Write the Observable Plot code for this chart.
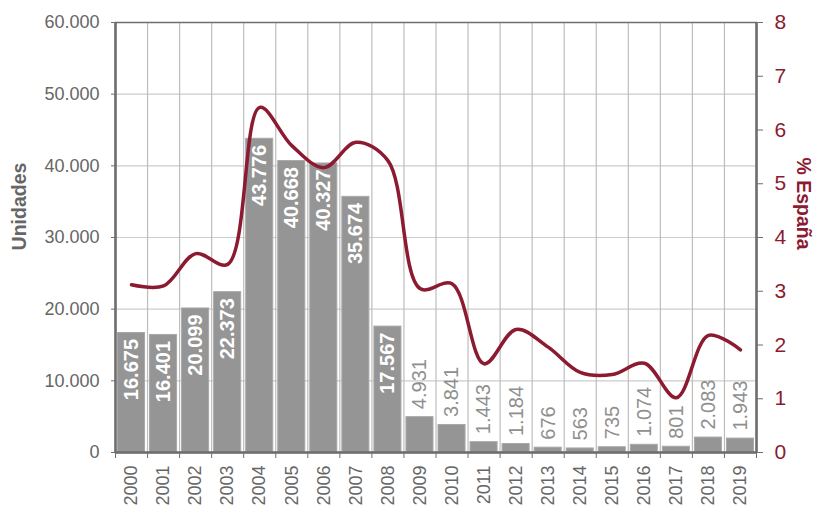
<!DOCTYPE html>
<html>
<head>
<meta charset="utf-8">
<script src="https://cdn.jsdelivr.net/npm/d3@7"></script>
<script src="https://cdn.jsdelivr.net/npm/@observablehq/plot@0.6"></script>
<style>
  body { margin: 0; background: #fff; }
  #chart { width: 814px; height: 509px; }
</style>
</head>
<body>
<div id="chart"></div>
<script>
const years = [2000, 2001, 2002, 2003, 2004, 2005, 2006, 2007, 2008, 2009, 2010, 2011, 2012, 2013, 2014, 2015, 2016, 2017, 2018, 2019];
const unidades = [16675, 16401, 20099, 22373, 43776, 40668, 40327, 35674, 17567, 4931, 3841, 1443, 1184, 676, 563, 735, 1074, 801, 2083, 1943];
const pctEspana = [3.12, 3.10, 3.70, 3.50, 6.42, 5.71, 5.30, 5.77, 5.43, 3.05, 3.14, 1.65, 2.29, 1.96, 1.49, 1.45, 1.66, 1.02, 2.18, 1.91];
const leftTicks = [0, 10000, 20000, 30000, 40000, 50000, 60000];
const rightTicks = [0, 1, 2, 3, 4, 5, 6, 7, 8];
const leftLabel = "Unidades";
const rightLabel = "% España";

const RED = "#8c1a31";
const GRAY = "#959595";
const TXT = "#666666";
const AX = "#6e6e6e";
const ratio = 60000 / 8;

const fmt = d => d3.format(",")(d).replace(/,/g, ".");
const data = years.map((y, i) => ({year: y, u: unidades[i], p: pctEspana[i]}));
const inside = data.filter(d => d.u >= 10000);
const outside = data.filter(d => d.u < 10000);
const bounds = years.map(y => y - 0.5).concat([years[years.length - 1] + 0.5]);

const chart = Plot.plot({
  width: 814,
  height: 509,
  marginLeft: 115,
  marginRight: 58,
  marginTop: 22,
  marginBottom: 57,
  style: {fontFamily: "Liberation Sans, Arial, sans-serif", background: "#fff", overflow: "visible"},
  x: {domain: [bounds[0], bounds[bounds.length - 1]]},
  y: {domain: [0, 60000]},
  marks: [
    Plot.gridY(leftTicks, {stroke: "#cccccc", strokeOpacity: 1, strokeWidth: 1.2}),
    Plot.ruleX(bounds, {stroke: "#bdbdbd", strokeWidth: 1.2}),
    Plot.rectY(data, {x1: d => d.year - 0.5, x2: d => d.year + 0.5, y: "u", fill: GRAY, stroke: "#a8a8a8", strokeWidth: 1, insetLeft: 2.5, insetRight: 2.5}),
    Plot.text(inside, {x: "year", y: "u", text: d => fmt(d.u), rotate: -90, textAnchor: "end", lineAnchor: "middle", dy: 6, fill: "#fff", fontSize: 20, fontWeight: "bold"}),
    Plot.text(outside, {x: "year", y: "u", text: d => fmt(d.u), rotate: -90, textAnchor: "start", lineAnchor: "middle", dy: -8, fill: "#8f8f8f", fontSize: 20}),
    Plot.line(data, {x: "year", y: d => d.p * ratio, stroke: RED, strokeWidth: 3.5, curve: "catmull-rom"}),
    Plot.frame({stroke: AX, strokeWidth: 1.5}),
    Plot.ruleX([bounds[0]], {stroke: AX, strokeWidth: 2.5}),
    Plot.ruleX([bounds[bounds.length - 1]], {stroke: AX, strokeWidth: 2.5}),
    Plot.ruleY([0], {stroke: AX, strokeWidth: 2.5}),
    Plot.axisY(leftTicks, {anchor: "left", tickSize: 4, tickPadding: 12, tickFormat: fmt, fontSize: 18, color: TXT, stroke: AX, label: null}),
    Plot.axisY(rightTicks.map(v => v * ratio), {anchor: "right", tickSize: 6, tickPadding: 12, tickFormat: d => String(d / ratio), fontSize: 21, color: RED, stroke: AX, label: null}),
    Plot.axisX(bounds, {anchor: "bottom", tickSize: 6, tickFormat: () => "", stroke: AX, label: null}),
    Plot.axisX(years, {anchor: "bottom", tickSize: 0, tickPadding: 13, tickRotate: -90, tickFormat: d => String(d), fontSize: 18, color: TXT, label: null}),
    Plot.text([leftLabel], {frameAnchor: "left", textAnchor: "middle", text: d => d, rotate: -90, dx: -96, dy: -31, fill: TXT, fontSize: 19.5, fontWeight: "bold"}),
    Plot.text([rightLabel], {frameAnchor: "right", textAnchor: "middle", text: d => d, rotate: 90, dx: 47, dy: -34, fill: RED, fontSize: 19.5, fontWeight: "bold"})
  ]
});
document.getElementById("chart").appendChild(chart);
</script>
</body>
</html>
